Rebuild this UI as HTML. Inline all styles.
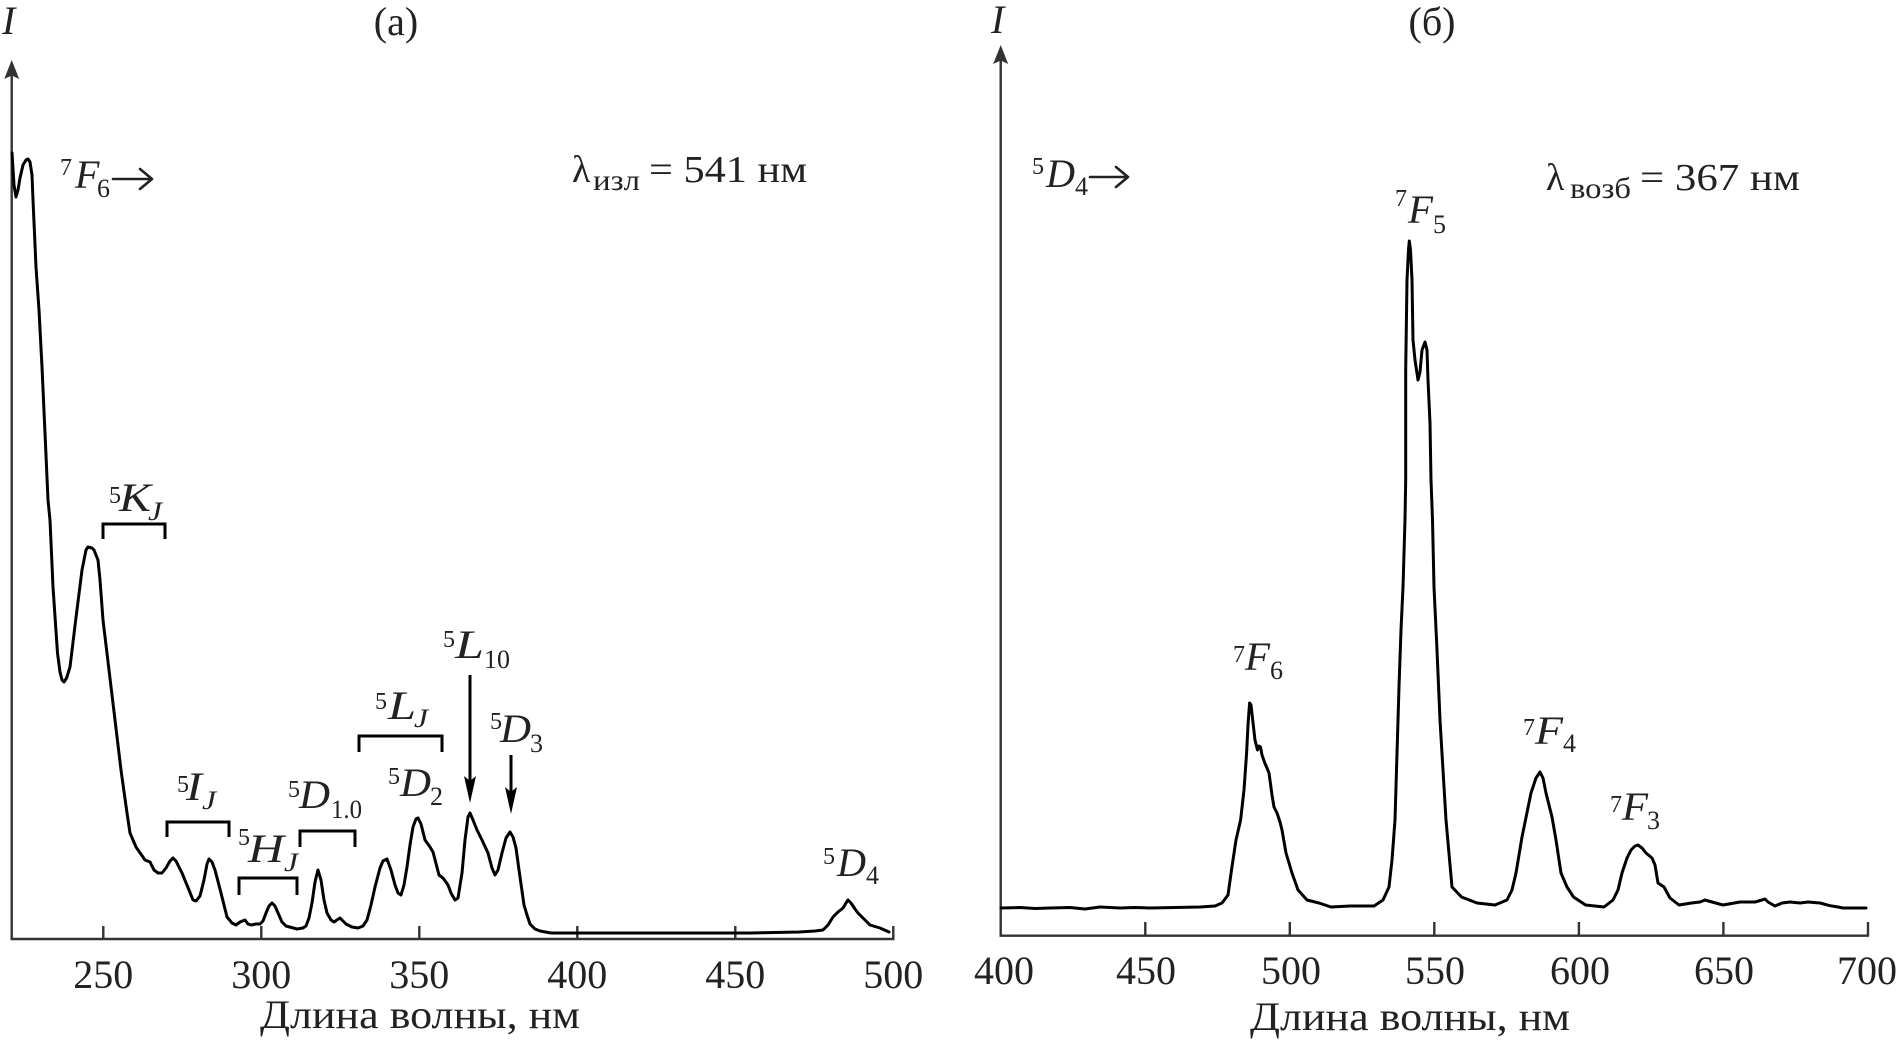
<!DOCTYPE html>
<html>
<head>
<meta charset="utf-8">
<style>
html,body{margin:0;padding:0;background:#fff;}
svg{display:block;}
text{font-family:"Liberation Serif","DejaVu Serif",serif;fill:#222;}
.it{font-style:italic;}
</style>
</head>
<body>
<svg width="1899" height="1043" viewBox="0 0 1899 1043" xmlns="http://www.w3.org/2000/svg">
<rect width="1899" height="1043" fill="#fff"/>

<!-- ============ LEFT PANEL ============ -->
<g stroke="#333" stroke-width="2.4" fill="none">
  <line x1="11.7" y1="70" x2="11.7" y2="939"/>
  <line x1="10.5" y1="939" x2="894.5" y2="939"/>
  <line x1="103.3" y1="926" x2="103.3" y2="939"/>
  <line x1="261.3" y1="926" x2="261.3" y2="939"/>
  <line x1="419.3" y1="926" x2="419.3" y2="939"/>
  <line x1="577.3" y1="926" x2="577.3" y2="939"/>
  <line x1="735.3" y1="926" x2="735.3" y2="939"/>
  <line x1="893.3" y1="926" x2="893.3" y2="939"/>
</g>
<path d="M11.7,60 L19.2,79 L11.7,75.5 L4.2,79 Z" fill="#333"/>

<g font-size="40" text-anchor="middle">
  <text x="103.3" y="988">250</text>
  <text x="261.3" y="988">300</text>
  <text x="419.3" y="988">350</text>
  <text x="577.3" y="988">400</text>
  <text x="735.3" y="988">450</text>
  <text x="893.3" y="988">500</text>
</g>
<text x="420" y="1028" font-size="40" text-anchor="middle" textLength="320" lengthAdjust="spacingAndGlyphs">Длина волны, нм</text>
<text x="396" y="35" font-size="40" text-anchor="middle">(а)</text>
<text x="2" y="34" font-size="40" class="it">I</text>

<!-- left curve -->
<path fill="none" stroke="#000" stroke-width="3" stroke-linejoin="round" stroke-linecap="round" d="M12,153 L14,185 L16,197 L18,190 L20,178 L23,165 L26,160 L28,159 L30,162 L32,175 L33,200 L36,267 L39,310 L42,367 L45,433 L48,500 L50,520 L53,587 L57.5,653 L60,672 L62,680 L64,682 L66.6,678 L70,667 L75.7,620 L82,570 L86,550 L88,547 L92,548 L94,550 L98,560 L100,580 L103,620 L109,670 L115,720 L121,770 L127,813 L130,833 L136,847 L145,860 L150,862 L154,870 L158,873 L162,873 L166,868 L170,861 L173,858 L176,861 L182,873 L189,890 L193,900 L196,901 L200,896 L204,880 L207,864 L209,859 L212,862 L215,870 L221,893 L227,917 L232,923 L236,925 L240,922 L245,920 L248,924 L251,925 L256,924 L260,924 L263,921 L266,913 L269,906 L272,903 L275,906 L278,913 L282,922 L286,926 L297,929 L303,928 L306,926 L309,918 L312,903 L315,882 L318,870 L321,880 L324,900 L327,913 L331,920 L334,922 L337,920 L340,918 L343,921 L346,924 L352,927 L358,928 L363,926 L367,920 L371,905 L375,887 L380,868 L383,861 L387,859 L391,870 L395,885 L398,893 L401,895 L404,885 L407,867 L410,845 L413,827 L416,819 L418,818 L421,824 L425,840 L430,847 L433,852 L439,875 L443,878 L448,885 L451,893 L455,900 L458,898 L462,873 L465,840 L468,817 L470,813 L473,820 L477,830 L482,840 L488,853 L492,868 L495,875 L498,870 L502,853 L506,838 L510,832 L513,837 L516,848 L519,870 L524,905 L527,915 L530,924 L535,929 L540,931 L551,933 L600,933 L650,933 L700,933 L750,933 L799,932 L815,931 L823,930 L828,925 L833,917 L838,912 L843,908 L846,903 L848,900 L851,903 L855,909 L858,913 L863,918 L870,925 L880,928 L889,932"/>

<!-- brackets & arrows -->
<g stroke="#000" stroke-width="3" fill="none">
  <path d="M103,539 V524 H165 V539"/>
  <path d="M167,837 V822 H229 V837"/>
  <path d="M239,895 V878 H297 V895"/>
  <path d="M300,847 V831 H355 V847"/>
  <path d="M359,752 V736 H442 V752"/>
  <line x1="470" y1="675" x2="470" y2="785"/>
  <line x1="511" y1="755" x2="511" y2="795"/>
</g>
<path d="M464,776 L470,803 L476,776 L470,781 Z" fill="#000"/>
<path d="M505,787 L511,814 L517,787 L511,792 Z" fill="#000"/>

<!-- transition arrows (→) -->
<g stroke="#222" stroke-width="2.6" fill="none" stroke-linecap="round" stroke-linejoin="round">
  <line x1="113" y1="179" x2="151" y2="179"/>
  <path d="M140,169 L152,179 L140,189"/>
  <line x1="1090" y1="177" x2="1127" y2="177"/>
  <path d="M1116,167 L1128,177 L1116,187"/>
</g>

<!-- left labels -->
<text x="60" y="175" font-size="24">7</text>
<text x="75" y="188" font-size="40" class="it">F</text>
<text x="97" y="197" font-size="26">6</text>

<text x="572" y="182" font-size="38">λ</text>
<text x="593" y="190" font-size="30" textLength="47" lengthAdjust="spacingAndGlyphs">изл</text>
<text x="649" y="182" font-size="38" textLength="158" lengthAdjust="spacingAndGlyphs">= 541 нм</text>

<text x="109" y="503" font-size="24">5</text>
<text x="119" y="511" font-size="40" class="it" textLength="32" lengthAdjust="spacingAndGlyphs">K</text>
<text x="148" y="520" font-size="26" class="it" textLength="14" lengthAdjust="spacingAndGlyphs">J</text>

<text x="177" y="792" font-size="24">5</text>
<text x="186" y="800" font-size="40" class="it" textLength="16" lengthAdjust="spacingAndGlyphs">I</text>
<text x="202" y="809" font-size="26" class="it" textLength="14" lengthAdjust="spacingAndGlyphs">J</text>

<text x="238" y="845" font-size="24">5</text>
<text x="248" y="862" font-size="40" class="it" textLength="36" lengthAdjust="spacingAndGlyphs">H</text>
<text x="284" y="871" font-size="26" class="it" textLength="14" lengthAdjust="spacingAndGlyphs">J</text>

<text x="288" y="797" font-size="24">5</text>
<text x="299" y="808" font-size="40" class="it" textLength="31" lengthAdjust="spacingAndGlyphs">D</text>
<text x="331" y="818" font-size="26" textLength="31" lengthAdjust="spacingAndGlyphs">1.0</text>

<text x="375" y="709" font-size="24">5</text>
<text x="388" y="719" font-size="40" class="it" textLength="28" lengthAdjust="spacingAndGlyphs">L</text>
<text x="414" y="727" font-size="26" class="it" textLength="14" lengthAdjust="spacingAndGlyphs">J</text>

<text x="388" y="784" font-size="24">5</text>
<text x="400" y="796" font-size="40" class="it" textLength="31" lengthAdjust="spacingAndGlyphs">D</text>
<text x="430" y="805" font-size="26">2</text>

<text x="443" y="647" font-size="24">5</text>
<text x="455" y="658" font-size="40" class="it" textLength="29" lengthAdjust="spacingAndGlyphs">L</text>
<text x="484" y="668" font-size="26" textLength="26" lengthAdjust="spacingAndGlyphs">10</text>

<text x="490" y="729" font-size="24">5</text>
<text x="500" y="742" font-size="40" class="it" textLength="31" lengthAdjust="spacingAndGlyphs">D</text>
<text x="530" y="752" font-size="26">3</text>

<text x="823" y="864" font-size="24">5</text>
<text x="837" y="876" font-size="40" class="it" textLength="29" lengthAdjust="spacingAndGlyphs">D</text>
<text x="866" y="884" font-size="26">4</text>

<!-- ============ RIGHT PANEL ============ -->
<g stroke="#333" stroke-width="2.4" fill="none">
  <line x1="1000.7" y1="55" x2="1000.7" y2="936"/>
  <line x1="999.5" y1="935.7" x2="1869" y2="935.7"/>
  <line x1="1145.3" y1="922" x2="1145.3" y2="936"/>
  <line x1="1289.8" y1="922" x2="1289.8" y2="936"/>
  <line x1="1434.3" y1="922" x2="1434.3" y2="936"/>
  <line x1="1578.9" y1="922" x2="1578.9" y2="936"/>
  <line x1="1723.4" y1="922" x2="1723.4" y2="936"/>
  <line x1="1868" y1="922" x2="1868" y2="936"/>
</g>
<path d="M1000.7,45 L1008.2,64 L1000.7,60.5 L993.2,64 Z" fill="#333"/>

<g font-size="40" text-anchor="middle">
  <text x="1004" y="984">400</text>
  <text x="1146" y="984">450</text>
  <text x="1291" y="984">500</text>
  <text x="1435" y="984">550</text>
  <text x="1580" y="984">600</text>
  <text x="1724" y="984">650</text>
  <text x="1867" y="984">700</text>
</g>
<text x="1410" y="1030" font-size="40" text-anchor="middle" textLength="320" lengthAdjust="spacingAndGlyphs">Длина волны, нм</text>
<text x="1432" y="35" font-size="40" text-anchor="middle">(б)</text>
<text x="991" y="33" font-size="40" class="it">I</text>

<!-- right curve -->
<path fill="none" stroke="#000" stroke-width="3" stroke-linejoin="round" stroke-linecap="round" d="M1001,908 L1020,907.5 L1035,908.5 L1050,908 L1070,907.5 L1085,909 L1100,907 L1120,908 L1135,907.5 L1150,908 L1175,907.5 L1200,907 L1215,906 L1222,903 L1228,895 L1231.5,870 L1236,840 L1240.6,820 L1244,790 L1246.6,753 L1248,725 L1249.6,703 L1251,705 L1252.7,720 L1255,740 L1257.5,750 L1259,746 L1260.5,747 L1262,755 L1264.8,763 L1267,768 L1269,773 L1272,795 L1274,807 L1277,813 L1280,822 L1282,830 L1286,853 L1292,873 L1298,890 L1307,900 L1319,903 L1331,907 L1350,906 L1374,906 L1383,900 L1389,887 L1392,860 L1395,820 L1399,687 L1401,630 L1403,587 L1405,520 L1405.7,480 L1405.7,370 L1407,280 L1408.5,250 L1409.3,241 L1410.5,250 L1412,280 L1413,340 L1415,360 L1418,380 L1420,372 L1422,350 L1425,342 L1427,350 L1428,380 L1430,423 L1431,480 L1432.5,520 L1434,587 L1437,650 L1440,720 L1446,820 L1452,887 L1461.5,897 L1477,903 L1495,905 L1507,900 L1512,890 L1516,873 L1522,837 L1531,793 L1536,778 L1540,772 L1543,778 L1546,793 L1552,817 L1556,840 L1561,873 L1567,887 L1573.5,897 L1585.6,905 L1604,907 L1613,900 L1618,890 L1622,873 L1627,858 L1631,850 L1635,846 L1638,845 L1642,848 L1646,853 L1652,858 L1655,865 L1658,883 L1664,887 L1670,898 L1679,905 L1691.5,903 L1700,902 L1705,900 L1712,902 L1723,905 L1740,902 L1755,902 L1762,900 L1765,899 L1768,902 L1775,906 L1782,903 L1790,902 L1800,903 L1808,902 L1820,903 L1830,905.7 L1838,907 L1843,908 L1866,908"/>

<!-- right labels -->
<text x="1032" y="174" font-size="24">5</text>
<text x="1046" y="187" font-size="40" class="it" textLength="29" lengthAdjust="spacingAndGlyphs">D</text>
<text x="1075" y="195" font-size="26">4</text>

<text x="1546" y="190" font-size="38">λ</text>
<text x="1570" y="198" font-size="30" textLength="61" lengthAdjust="spacingAndGlyphs">возб</text>
<text x="1640" y="190" font-size="38" textLength="160" lengthAdjust="spacingAndGlyphs">= 367 нм</text>

<text x="1395" y="206" font-size="24">7</text>
<text x="1408" y="223" font-size="40" class="it" textLength="25" lengthAdjust="spacingAndGlyphs">F</text>
<text x="1433" y="233" font-size="26">5</text>

<text x="1233" y="662" font-size="24">7</text>
<text x="1245" y="670" font-size="40" class="it" textLength="25" lengthAdjust="spacingAndGlyphs">F</text>
<text x="1270" y="679" font-size="26">6</text>

<text x="1523" y="735" font-size="24">7</text>
<text x="1535" y="744" font-size="40" class="it" textLength="28" lengthAdjust="spacingAndGlyphs">F</text>
<text x="1563" y="752" font-size="26">4</text>

<text x="1610" y="812" font-size="24">7</text>
<text x="1622" y="820" font-size="40" class="it" textLength="26" lengthAdjust="spacingAndGlyphs">F</text>
<text x="1647" y="829" font-size="26">3</text>
</svg>
</body>
</html>
